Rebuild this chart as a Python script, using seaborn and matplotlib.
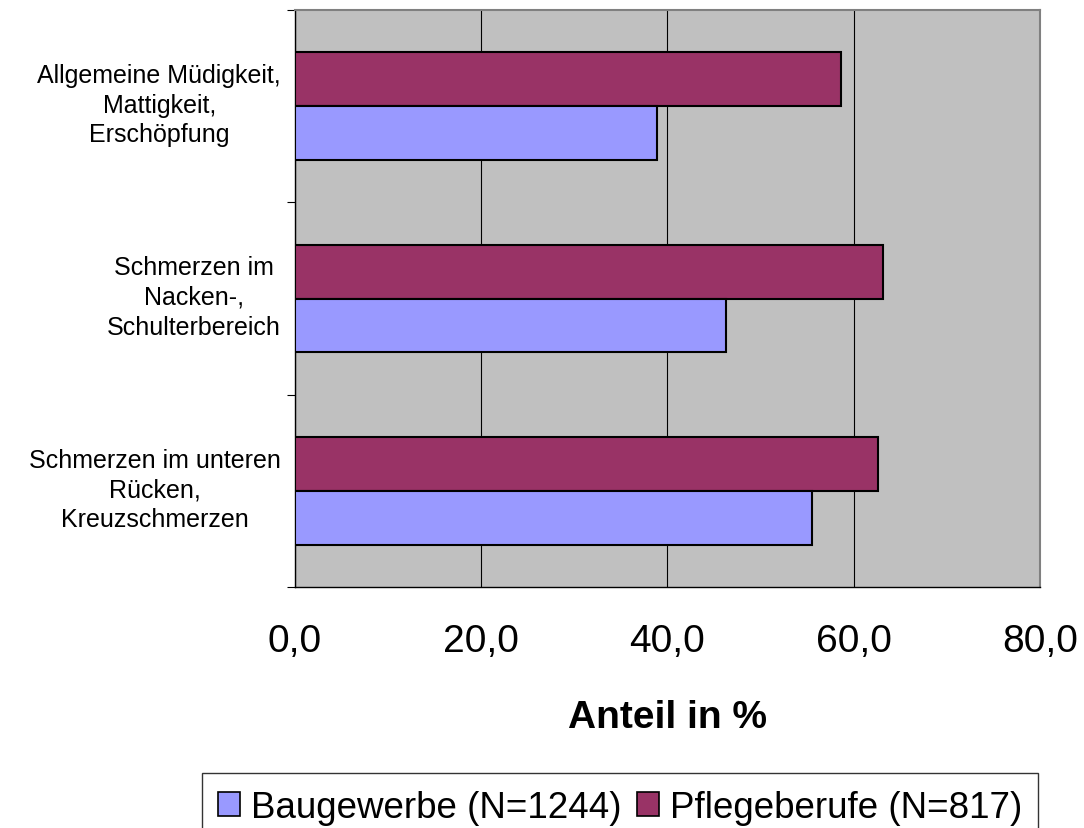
import pandas as pd
import matplotlib.pyplot as plt
import matplotlib.transforms as mtransforms
import seaborn as sns
from matplotlib.patches import Patch

categories = ['Allgemeine Müdigkeit,\nMattigkeit,\nErschöpfung',
              'Schmerzen im\nNacken-,\nSchulterbereich',
              'Schmerzen im unteren\nRücken,\nKreuzschmerzen']
bau = [38.9, 46.3, 55.5]
pflege = [58.6, 63.1, 62.6]
groups = ['Baugewerbe (N=1244)', 'Pflegeberufe (N=817)']
colors = {'Baugewerbe (N=1244)': '#9999FF', 'Pflegeberufe (N=817)': '#993366'}
xticks = [0, 20, 40, 60, 80]
xtick_labels = ['0,0', '20,0', '40,0', '60,0', '80,0']

df = pd.DataFrame({
    'Beschwerde': categories * 2,
    'Gruppe': [groups[1]] * 3 + [groups[0]] * 3,
    'Anteil': pflege + bau,
})

sns.set_style('white')
plt.rcParams['font.family'] = ['Liberation Sans', 'DejaVu Sans']
plt.rcParams['text.color'] = 'black'
plt.rcParams['axes.labelcolor'] = 'black'
plt.rcParams['xtick.color'] = 'black'
plt.rcParams['ytick.color'] = 'black'

fig = plt.figure(figsize=(10.84, 8.29), dpi=100)
ax = fig.add_axes([0.2721, 0.2907, 0.6873, 0.696])
ax.set_facecolor('#C0C0C0')

sns.barplot(data=df, y='Beschwerde', x='Anteil', hue='Gruppe',
            order=categories, hue_order=[groups[1], groups[0]],
            palette=colors, saturation=1, orient='h', width=0.56, gap=0,
            edgecolor='black', linewidth=1.5, legend=False, ax=ax, zorder=3)

ax.set_xlim(0, 80)
ax.set_ylim(2.5, -0.5)
ax.set_xticks(xticks)
ax.set_xticklabels(xtick_labels, fontsize=28)
ax.xaxis.grid(True, color='black', linewidth=0.8)
ax.set_axisbelow(True)
ax.tick_params(axis='x', direction='out', length=8, width=0.8, pad=18)

ax.set_yticks([0, 1, 2])
ax.set_yticklabels(categories, fontsize=18, multialignment='center', linespacing=1.3)
ax.set_yticks([-0.5, 0.5, 1.5, 2.5], minor=True)
ax.tick_params(axis='y', which='major', length=0, pad=10)
ax.tick_params(axis='y', which='minor', direction='out', length=6, width=0.8, left=True)

# labels sit a little above the bar group centre in the original
shift = mtransforms.ScaledTranslation(0, 5 / 72, fig.dpi_scale_trans)
for lab in ax.get_yticklabels():
    lab.set_transform(lab.get_transform() + shift)

ax.set_ylabel('')
ax.set_xlabel('Anteil in %', fontsize=28, fontweight='bold', labelpad=29)

for side in ['left', 'bottom']:
    ax.spines[side].set_color('black')
    ax.spines[side].set_linewidth(1.0)
for side in ['top', 'right']:
    ax.spines[side].set_color('#808080')
    ax.spines[side].set_linewidth(1.5)

handles = [Patch(facecolor=colors[g], edgecolor='black', linewidth=1.2, label=g) for g in groups]
leg = fig.legend(handles=handles, loc='upper center', bbox_to_anchor=(0.572, 0.066),
                 ncol=2, fontsize=26.5, frameon=True, fancybox=False,
                 handlelength=0.6, handleheight=0.6, handletextpad=0.3,
                 columnspacing=0.4, borderpad=0.45, borderaxespad=0)
leg.get_frame().set_edgecolor('black')
leg.get_frame().set_linewidth(1.0)

fig.savefig('out.png', dpi=100)
